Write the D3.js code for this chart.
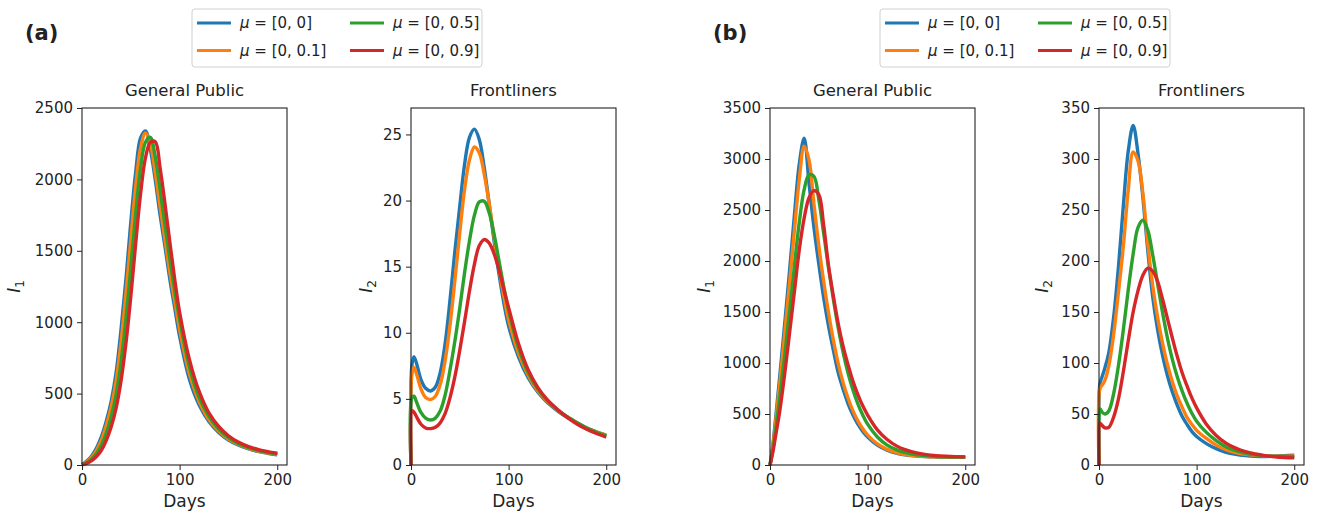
<!DOCTYPE html>
<html>
<head>
<meta charset="utf-8">
<script src="https://cdn.jsdelivr.net/npm/d3@7"></script>
<style>
  body { margin: 0; background: #fff; }
  text { font-family: "DejaVu Sans", sans-serif; fill: #222; }
</style>
</head>
<body>
<div id="chart"></div>
<script>
var days = [0, 1, 3, 6, 10, 15, 20, 25, 30, 35, 40, 45, 50, 55, 60, 65, 70, 75, 80, 85,
  90, 95, 100, 110, 120, 130, 140, 150, 160, 170, 180, 190, 200];

var mu_labels = ['[0, 0]', '[0, 0.1]', '[0, 0.5]', '[0, 0.9]'];
var colors = ['#1f77b4', '#ff7f0e', '#2ca02c', '#d62728'];

// (a) general public I1
var a_gp_0 = [5, 8, 16, 35, 65, 120, 200, 310, 450, 650, 950, 1300, 1700, 2050, 2290, 2340, 2210, 2000, 1750, 1530,
  1300, 1100, 900, 600, 420, 305, 228, 175, 140, 115, 95, 82, 72];
var a_gp_1 = [4, 7, 13, 29, 55, 105, 175, 280, 410, 590, 860, 1200, 1580, 1950, 2220, 2325, 2250, 2050, 1810, 1580,
  1350, 1150, 950, 640, 445, 318, 238, 182, 145, 118, 98, 85, 75];
var a_gp_5 = [3, 5, 10, 22, 42, 82, 140, 225, 340, 495, 720, 1020, 1380, 1760, 2080, 2260, 2295, 2160, 1930, 1680,
  1440, 1220, 1020, 690, 475, 340, 252, 191, 151, 123, 103, 89, 78];
var a_gp_9 = [2, 3, 7, 15, 30, 60, 105, 175, 270, 400, 590, 850, 1180, 1550, 1900, 2150, 2260, 2265, 2080, 1830,
  1560, 1300, 1070, 740, 515, 365, 270, 205, 161, 131, 109, 94, 82];

// (a) frontliners I2
var a_fl_0 = [0, 7.6, 8.2, 7.6, 6.5, 5.8, 5.6, 5.9, 7.0, 9.2, 12.5, 16.2, 19.6, 22.8, 24.8, 25.4, 24.6, 22.5, 19.8, 17.0,
  14.5, 12.3, 10.5, 8.2, 6.6, 5.5, 4.7, 4.1, 3.6, 3.2, 2.8, 2.5, 2.25];
var a_fl_1 = [0, 6.9, 7.4, 6.8, 5.8, 5.1, 4.95, 5.2, 6.1, 7.9, 10.6, 14.0, 17.6, 20.9, 23.1, 24.05, 23.6, 22.0, 19.8, 17.3,
  14.9, 12.8, 11.0, 8.5, 6.8, 5.6, 4.8, 4.15, 3.65, 3.2, 2.8, 2.5, 2.25];
var a_fl_5 = [0, 5.1, 5.2, 4.7, 4.0, 3.55, 3.4, 3.55, 4.1, 5.3, 7.2, 9.4, 11.9, 14.6, 17.0, 18.9, 19.9, 19.95, 19.1, 17.5,
  15.5, 13.5, 11.7, 8.9, 7.0, 5.75, 4.85, 4.2, 3.65, 3.2, 2.8, 2.48, 2.2];
var a_fl_9 = [0, 4.1, 4.0, 3.6, 3.1, 2.8, 2.75, 2.85, 3.2, 3.9, 5.1, 6.7, 8.7, 10.9, 13.2, 15.2, 16.6, 17.05, 16.8, 16.0,
  14.8, 13.3, 11.9, 9.2, 7.2, 5.85, 4.9, 4.2, 3.6, 3.1, 2.7, 2.38, 2.1];

// (b) general public I1
var b_gp_0 = [0, 60, 200, 480, 870, 1380, 1900, 2450, 2950, 3205, 2760, 2330, 1970, 1640, 1360, 1120, 900, 740, 600, 490,
  400, 330, 275, 195, 145, 115, 98, 88, 82, 79, 77, 76, 75];
var b_gp_1 = [0, 55, 185, 440, 800, 1280, 1780, 2300, 2800, 3125, 2990, 2560, 2150, 1800, 1490, 1220, 990, 805, 655, 530,
  432, 355, 293, 207, 153, 120, 101, 90, 83, 80, 78, 77, 76];
var b_gp_5 = [0, 45, 150, 360, 660, 1070, 1500, 1950, 2380, 2700, 2845, 2830, 2600, 2270, 1930, 1620, 1340, 1100, 900, 735,
  600, 490, 400, 275, 195, 148, 118, 100, 90, 84, 80, 78, 77];
var b_gp_9 = [0, 40, 130, 300, 530, 890, 1290, 1700, 2110, 2420, 2620, 2690, 2650, 2350, 1950, 1650, 1380, 1160, 980, 820,
  690, 580, 490, 345, 250, 185, 145, 118, 102, 92, 86, 82, 80];

// (b) frontliners I2
var b_fl_0 = [0, 80, 86, 95, 110, 145, 195, 255, 308, 333, 305, 262, 210, 165, 133, 108, 88, 72, 59, 48,
  40, 33, 28, 21, 16, 12.5, 10.5, 9.3, 8.6, 8.4, 8.6, 9.1, 9.7];
var b_fl_1 = [0, 75, 78, 83, 97, 128, 170, 215, 270, 307, 298, 266, 217, 176, 145, 120, 99, 82, 68, 57,
  47, 40, 34, 26, 19.5, 15, 12.2, 10.5, 9.5, 8.9, 8.6, 8.6, 8.8];
var b_fl_5 = [0, 55, 52, 50, 53, 70, 98, 133, 172, 207, 233, 240, 230, 206, 178, 150, 125, 104, 87, 73,
  61, 51, 43, 32, 24, 18, 14, 11.5, 10, 9, 8.5, 8.3, 8.2];
var b_fl_9 = [0, 41, 39, 36.5, 37, 47, 65, 92, 122, 150, 171, 186, 193, 190, 180, 163, 144, 125, 107, 91,
  78, 66, 56, 40, 29, 21.5, 16.5, 13, 10.8, 9.2, 8.1, 7.4, 7];

var x_ticks = [0, 100, 200];
var gp_a_ticks = [0, 500, 1000, 1500, 2000, 2500];
var fl_a_ticks = [0, 5, 10, 15, 20, 25];
var gp_b_ticks = [0, 500, 1000, 1500, 2000, 2500, 3000, 3500];
var fl_b_ticks = [0, 50, 100, 150, 200, 250, 300, 350];

var chart_width = 1318;
var chart_height = 513;
var plot_top = 108;
var plot_bottom = 465;
var plot_w = 205;

var panels = [
  { left: 82,   series: [a_gp_0, a_gp_1, a_gp_5, a_gp_9], ymax: 2500, ticks: gp_a_ticks, title: 'General Public', sub: '1', label_x: 15 },
  { left: 411,  series: [a_fl_0, a_fl_1, a_fl_5, a_fl_9], ymax: 27,   ticks: fl_a_ticks, title: 'Frontliners',    sub: '2', label_x: 367 },
  { left: 770,  series: [b_gp_0, b_gp_1, b_gp_5, b_gp_9], ymax: 3500, ticks: gp_b_ticks, title: 'General Public', sub: '1', label_x: 705 },
  { left: 1099, series: [b_fl_0, b_fl_1, b_fl_5, b_fl_9], ymax: 350,  ticks: fl_b_ticks, title: 'Frontliners',    sub: '2', label_x: 1043 }
];

var svg = d3.select('#chart')
  .append('svg')
  .attr('width', chart_width)
  .attr('height', chart_height);

panels.forEach(function(p) {
  var x_scale = d3.scaleLinear().domain([0, 210]).range([p.left, p.left + plot_w]);
  var y_scale = d3.scaleLinear().domain([0, p.ymax]).range([plot_bottom, plot_top]);

  var g = svg.append('g');

  var line = d3.line()
    .x(function(d, i) { return x_scale(days[i]); })
    .y(function(d) { return y_scale(d); })
    .curve(d3.curveCatmullRom.alpha(0.5));

  g.selectAll('path.curve')
    .data(p.series)
    .enter()
    .append('path')
    .attr('class', 'curve')
    .attr('d', line)
    .attr('fill', 'none')
    .attr('stroke', function(d, i) { return colors[i]; })
    .attr('stroke-width', 3.4)
    .attr('stroke-linejoin', 'round');

  // frame
  g.append('rect')
    .attr('x', p.left)
    .attr('y', plot_top)
    .attr('width', plot_w)
    .attr('height', plot_bottom - plot_top)
    .attr('fill', 'none')
    .attr('stroke', '#222')
    .attr('stroke-width', 1.1);

  var x_axis = d3.axisBottom(x_scale).tickValues(x_ticks).tickSize(5).tickPadding(4).tickFormat(d3.format('d'));
  var y_axis = d3.axisLeft(y_scale).tickValues(p.ticks).tickSize(5).tickPadding(4).tickFormat(d3.format('d'));

  g.append('g')
    .attr('transform', 'translate(0,' + plot_bottom + ')')
    .call(x_axis);
  g.append('g')
    .attr('transform', 'translate(' + p.left + ',0)')
    .call(y_axis);

  g.selectAll('.domain').remove();
  g.selectAll('.tick line').attr('stroke', '#222');
  g.selectAll('.tick text')
    .attr('font-size', 15)
    .attr('font-family', '"DejaVu Sans", sans-serif')
    .attr('fill', '#222');

  // title
  g.append('text')
    .attr('x', p.left + plot_w / 2)
    .attr('y', 96)
    .attr('text-anchor', 'middle')
    .attr('font-size', 16.5)
    .text(p.title);

  // x label
  g.append('text')
    .attr('x', p.left + plot_w / 2)
    .attr('y', 507)
    .attr('text-anchor', 'middle')
    .attr('font-size', 17)
    .text('Days');

  // y label I_1 / I_2
  var yl = g.append('text')
    .attr('transform', 'translate(' + (p.label_x + 5) + ',' + ((plot_top + plot_bottom) / 2) + ') rotate(-90)')
    .attr('text-anchor', 'middle')
    .attr('font-size', 17);
  yl.append('tspan').attr('font-style', 'italic').text('I');
  yl.append('tspan').attr('font-size', 12).attr('dy', 4).text(p.sub);
});

// legends and panel letters
var legends = [
  { x: 192, letter: '(a)', letter_x: 25 },
  { x: 880, letter: '(b)', letter_x: 713 }
];

legends.forEach(function(l) {
  svg.append('text')
    .attr('x', l.letter_x)
    .attr('y', 40)
    .attr('font-size', 21)
    .attr('font-weight', 'bold')
    .attr('fill', '#111')
    .text(l.letter);

  var lg = svg.append('g').attr('transform', 'translate(' + l.x + ',9)');
  lg.append('rect')
    .attr('width', 290)
    .attr('height', 58)
    .attr('rx', 3)
    .attr('fill', '#fff')
    .attr('stroke', '#d0d0d0');

  var items = lg.selectAll('g.item')
    .data(mu_labels)
    .enter()
    .append('g')
    .attr('class', 'item')
    .attr('transform', function(d, i) {
      return 'translate(' + (5 + Math.floor(i / 2) * 153) + ',' + (14 + (i % 2) * 27.5) + ')';
    });

  items.append('line')
    .attr('x1', 0)
    .attr('x2', 34)
    .attr('stroke', function(d, i) { return colors[i]; })
    .attr('stroke-width', 3);

  var t = items.append('text')
    .attr('x', 43)
    .attr('y', 5)
    .attr('font-size', 15);
  t.append('tspan').attr('font-style', 'italic').text('μ');
  t.append('tspan').text(function(d) { return ' = ' + d; });
});
</script>
</body>
</html>
